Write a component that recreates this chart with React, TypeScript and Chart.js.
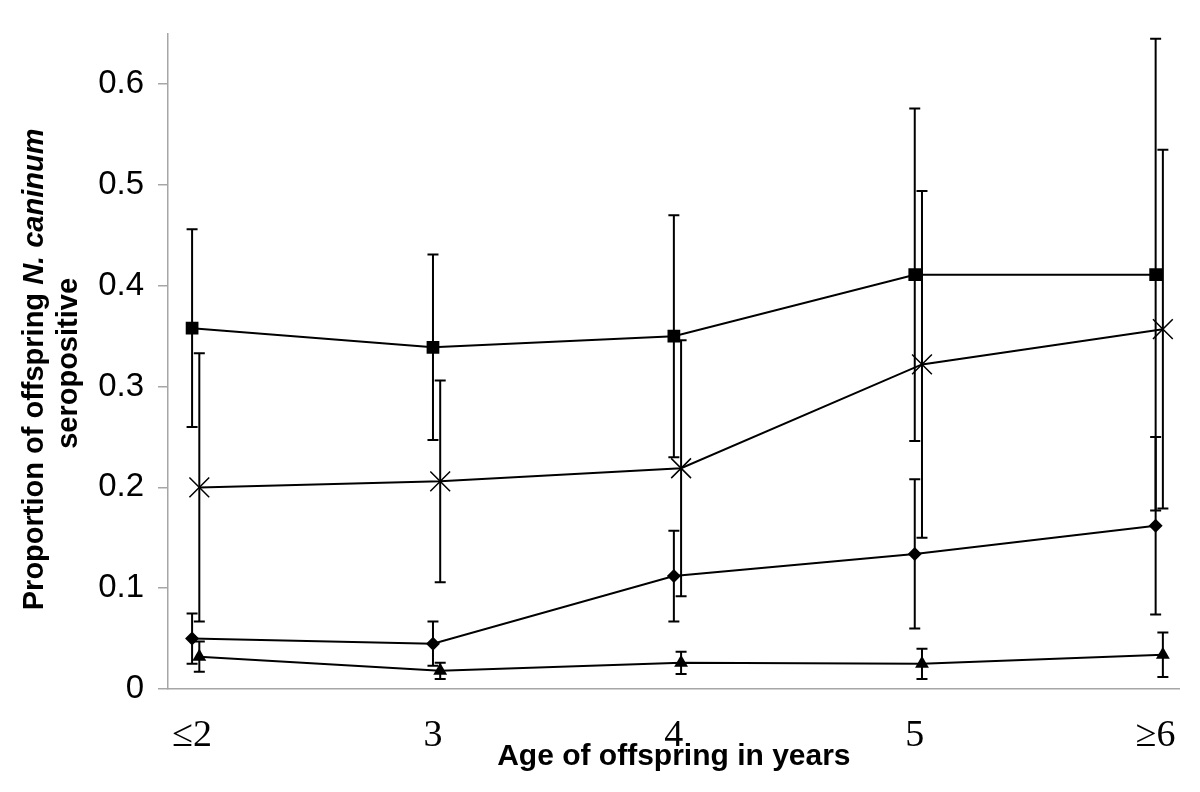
import React, { useEffect, useRef } from 'react';
import { Chart, registerables } from 'chart.js';

Chart.register(...registerables);

// ---- data ----
const categories = ['≤2', '3', '4', '5', '≥6'];
const yTickValues = [0, 0.1, 0.2, 0.3, 0.4, 0.5, 0.6];

const squareValues = [0.358, 0.339, 0.35, 0.411, 0.411];
const squareErrors = [0.098, 0.092, 0.12, 0.165, 0.234];

const crossValues = [0.2, 0.206, 0.219, 0.322, 0.357];
const crossErrors = [0.133, 0.1, 0.127, 0.172, 0.178];

const diamondValues = [0.05, 0.045, 0.112, 0.134, 0.162];
const diamondErrors = [0.025, 0.022, 0.045, 0.074, 0.088];

const triangleValues = [0.032, 0.018, 0.026, 0.025, 0.034];
const triangleErrors = [0.015, 0.008, 0.011, 0.015, 0.022];

const xTitle = 'Age of offspring in years';
const yTitleMain = 'Proportion of offspring ';
const yTitleItalic = 'N. caninum';
const yTitleLine2 = 'seropositive';

const SANS = '"Liberation Sans", Arial, sans-serif';
const SERIF = '"Liberation Serif", "Times New Roman", serif';
const AXIS_GREY = '#a6a6a6';

const errorBarsPlugin = {
  id: 'errorBars',
  beforeDatasetsDraw(chart: any) {
    const { ctx, scales } = chart;
    const xs = scales.x;
    const ys = scales.y;
    ctx.save();
    ctx.strokeStyle = '#000';
    ctx.lineWidth = 2;
    chart.data.datasets.forEach((ds: any) => {
      ds.data.forEach((p: any) => {
        const px = xs.getPixelForValue(p.x);
        const top = ys.getPixelForValue(p.y + p.err);
        const bot = ys.getPixelForValue(p.y - p.err);
        ctx.beginPath();
        ctx.moveTo(px, top);
        ctx.lineTo(px, bot);
        ctx.moveTo(px - 5.5, top);
        ctx.lineTo(px + 5.5, top);
        ctx.moveTo(px - 5.5, bot);
        ctx.lineTo(px + 5.5, bot);
        ctx.stroke();
      });
    });
    ctx.restore();
  },
};

const yTitlePlugin = {
  id: 'yTitle',
  afterDraw(chart: any) {
    const { ctx, chartArea } = chart;
    const cy = (chartArea.top + chartArea.bottom) / 2;
    const size = 29;
    const fNormal = `bold ${size}px ${SANS}`;
    const fItalic = `italic bold ${size}px ${SANS}`;
    ctx.save();
    ctx.fillStyle = '#000';
    ctx.textBaseline = 'middle';
    ctx.textAlign = 'left';
    // line 1
    ctx.save();
    ctx.translate(35, cy + 8);
    ctx.rotate(-Math.PI / 2);
    ctx.font = fNormal;
    const w1 = ctx.measureText(yTitleMain).width;
    ctx.font = fItalic;
    const w2 = ctx.measureText(yTitleItalic).width;
    const start = -(w1 + w2) / 2;
    ctx.font = fNormal;
    ctx.fillText(yTitleMain, start, 0);
    ctx.font = fItalic;
    ctx.fillText(yTitleItalic, start + w1, 0);
    ctx.restore();
    // line 2
    ctx.save();
    ctx.translate(69, cy + 2);
    ctx.rotate(-Math.PI / 2);
    ctx.font = fNormal;
    ctx.textAlign = 'center';
    ctx.fillText(yTitleLine2, 0, 0);
    ctx.restore();
    ctx.restore();
  },
};

function series(values: number[], errors: number[], shift: number) {
  return values.map((v, i) => ({ x: i + shift, y: v, err: errors[i] }));
}

export default function App() {
  const ref = useRef<HTMLCanvasElement>(null);

  useEffect(() => {
    document.body.style.margin = '0';
    const canvas = ref.current;
    if (!canvas) return;
    const shift = 0.03;
    const common = {
      showLine: true,
      borderColor: '#000',
      borderWidth: 2,
      backgroundColor: '#000',
      pointBackgroundColor: '#000',
      pointBorderColor: '#000',
      tension: 0,
    };
    const chart = new Chart(canvas, {
      type: 'scatter',
      data: {
        datasets: [
          {
            ...common,
            label: 'square',
            data: series(squareValues, squareErrors, 0),
            pointStyle: 'rect',
            pointRadius: 9,
            pointBorderWidth: 0,
          },
          {
            ...common,
            label: 'cross',
            data: series(crossValues, crossErrors, shift),
            pointStyle: 'crossRot',
            pointRadius: 14,
            pointBorderWidth: 1.5,
          },
          {
            ...common,
            label: 'diamond',
            data: series(diamondValues, diamondErrors, 0),
            pointStyle: 'rectRot',
            pointRadius: 7,
            pointBorderWidth: 0,
          },
          {
            ...common,
            label: 'triangle',
            data: series(triangleValues, triangleErrors, shift),
            pointStyle: 'triangle',
            pointRadius: 8,
            pointBorderWidth: 0,
          },
        ] as any,
      },
      options: {
        animation: false,
        responsive: false,
        devicePixelRatio: 1,
        layout: { padding: { top: 33, right: 18, left: 0, bottom: 0 } },
        plugins: {
          legend: { display: false },
          tooltip: { enabled: false },
        },
        scales: {
          x: {
            type: 'linear',
            min: -0.1,
            max: 4.1,
            afterBuildTicks: (scale: any) => {
              scale.ticks = categories.map((_, i) => ({ value: i }));
            },
            afterFit: (scale: any) => {
              scale.height = 103;
            },
            grid: { display: false, drawTicks: false },
            border: { display: true, color: AXIS_GREY, width: 1.5 },
            ticks: {
              padding: 24,
              color: '#000',
              font: { family: SERIF, size: 38 },
              maxRotation: 0,
              autoSkip: false,
              callback: (v: any) => categories[Math.round(Number(v))] ?? '',
            },
            title: {
              display: true,
              text: xTitle,
              color: '#000',
              font: { family: SANS, size: 30, weight: 'bold' },
              padding: { top: 0, bottom: 17 },
            },
          },
          y: {
            type: 'linear',
            min: 0,
            max: 0.65,
            afterBuildTicks: (scale: any) => {
              scale.ticks = yTickValues.map((v) => ({ value: v }));
            },
            afterFit: (scale: any) => {
              scale.width = 168;
            },
            grid: {
              display: true,
              drawOnChartArea: false,
              drawTicks: true,
              tickLength: 10,
              color: AXIS_GREY,
              lineWidth: 1.5,
            },
            border: { display: true, color: AXIS_GREY, width: 1.5 },
            ticks: {
              padding: 14,
              color: '#000',
              font: { family: SANS, size: 33 },
              callback: (v: any) => (Number(v) === 0 ? '0' : Number(v).toFixed(1)),
            },
          },
        },
      } as any,
      plugins: [errorBarsPlugin, yTitlePlugin],
    });
    return () => chart.destroy();
  }, []);

  return (
    <div style={{ width: 1200, height: 792, background: '#fff' }}>
      <canvas ref={ref} width={1200} height={792} style={{ display: 'block' }} />
    </div>
  );
}
